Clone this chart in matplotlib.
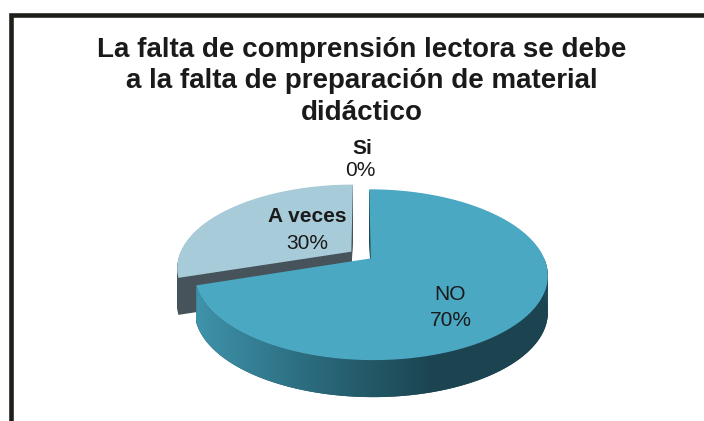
import numpy as np
import matplotlib.pyplot as plt
from matplotlib.colors import LinearSegmentedColormap
from matplotlib.path import Path
from matplotlib.transforms import Transform, Affine2D

plt.rcParams['font.family'] = ['Liberation Sans', 'DejaVu Sans']

# datos del grafico
labels = ['Si', 'NO', 'A veces']
values = [0, 70, 30]
pct_labels = ['0%', '70%', '30%']
title = 'La falta de comprensión lectora se debe\na la falta de preparación de material\ndidáctico'

top_colors = ['#4a6f8a', '#4ba8c3', '#a7cbd8']
side_colors = ['#3a5565', '#1f4b58', '#46535b']
explode = [0, 0.07, 0.07]


class Perspectiva(Transform):
    """Inclina el circulo del pastel: la parte de atras se ve mas chica."""
    input_dims = output_dims = 2
    is_separable = False
    has_inverse = True

    def __init__(self, k):
        super().__init__()
        self.k = k

    def transform_non_affine(self, xy):
        xy = np.asarray(xy, float).reshape(-1, 2)
        w = 1 + self.k * xy[:, 1]
        return np.column_stack([xy[:, 0] / w, xy[:, 1] / w])

    def transform_path_non_affine(self, path):
        # aplanar las curvas antes de proyectar
        pts, codes = [], []
        for seg, code in path.iter_bezier():
            cp = seg.control_points
            if code == Path.MOVETO:
                pts.append(cp[-1:])
                codes.append(Path.MOVETO)
            elif len(cp) == 2:
                pts.append(cp[1:])
                codes.append(Path.LINETO)
            else:
                p = seg(np.linspace(0, 1, 16)[1:])
                pts.append(p)
                codes.extend([Path.LINETO] * len(p))
        verts = self.transform_non_affine(np.vstack(pts))
        return Path(verts, codes)

    def inverted(self):
        return PerspectivaInv(self.k)


class PerspectivaInv(Transform):
    input_dims = output_dims = 2
    is_separable = False
    has_inverse = True

    def __init__(self, k):
        super().__init__()
        self.k = k

    def transform_non_affine(self, xy):
        xy = np.asarray(xy, float).reshape(-1, 2)
        v = xy[:, 1] / (1 - self.k * xy[:, 1])
        return np.column_stack([xy[:, 0] * (1 + self.k * v), v])

    def inverted(self):
        return Perspectiva(self.k)


W, H = 704, 421
fig = plt.figure(figsize=(W / 100, H / 100), dpi=100)

# marco negro (cortado a la derecha y abajo)
fig.add_artist(plt.Rectangle((11 / W, -0.1), 1.2, 1 - 14.5 / H + 0.1,
                             transform=fig.transFigure, fill=False,
                             lw=3.3, ec='#1e1e1a'))

fig.text(362 / W, 1 - 37 / H, title, ha='center', va='top', fontsize=20,
         fontweight='bold', color='#1a1a1a', linespacing=1.27)

# pastel "3d"
cx, cy = 361, 255       # vertice en pixeles (desde arriba)
rx, sy = 172, 81
persp = Perspectiva(0.19)
depth = 37 / sy
lx, ly = 1.5, 2.0
ax = fig.add_axes([(cx - lx * rx) / W, (H - cy - ly * sy) / H,
                   2 * lx * rx / W, 2 * ly * sy / H])

for k in np.linspace(depth, 0.01, 30):
    side, _ = ax.pie(values, colors=side_colors, startangle=90, counterclock=False,
                     explode=explode, radius=1, wedgeprops=dict(lw=0, zorder=1))
    for w in side:
        w.set_transform(persp + Affine2D().translate(0, -k) + ax.transData)

wedges, _ = ax.pie(values, colors=top_colors, startangle=90, counterclock=False,
                   explode=explode, radius=1, wedgeprops=dict(lw=0, zorder=3))
for w in wedges:
    w.set_transform(persp + ax.transData)

# degradado en el lado frontal de la porcion NO
no = wedges[1]
ox, oy = no.center
t = np.radians(np.linspace(198, 360, 160))
upper = persp.transform(np.column_stack([ox + np.cos(t), oy + np.sin(t)]))
lower = upper[::-1] - [0, depth]
band = Path(np.vstack([upper, lower, upper[:1]]), closed=True)
cmap = LinearSegmentedColormap.from_list('lado', ['#3f93ab', '#2a6a7c', '#1c4551', '#1d4450'])
grad = np.linspace(0, 1, 256).reshape(1, -1)
x0, x1 = upper[:, 0].min(), upper[:, 0].max()
img = ax.imshow(grad, extent=(x0, x1, -1.6 - depth, 0.3), aspect='auto',
                cmap=cmap, zorder=2)
img.set_clip_path(band, transform=ax.transData)

ax.set_aspect('auto')
ax.set_xlim(-lx, lx)
ax.set_ylim(-ly, ly)
ax.axis('off')

# etiquetas
fig.text(362 / W, 1 - 148 / H, labels[0], ha='center', va='center', fontsize=15, fontweight='bold', color='#1a1a1a')
fig.text(360 / W, 1 - 171 / H, pct_labels[0], ha='center', va='center', fontsize=15, color='#1a1a1a')
fig.text(307 / W, 1 - 216 / H, labels[2], ha='center', va='center', fontsize=15, fontweight='bold', color='#1a1a1a')
fig.text(307 / W, 1 - 243 / H, pct_labels[2], ha='center', va='center', fontsize=15, color='#1a1a1a')
fig.text(450 / W, 1 - 295 / H, labels[1], ha='center', va='center', fontsize=15, color='#1a1a1a')
fig.text(451 / W, 1 - 320 / H, pct_labels[1], ha='center', va='center', fontsize=15, color='#1a1a1a')

fig.savefig('out.png', dpi=100)
